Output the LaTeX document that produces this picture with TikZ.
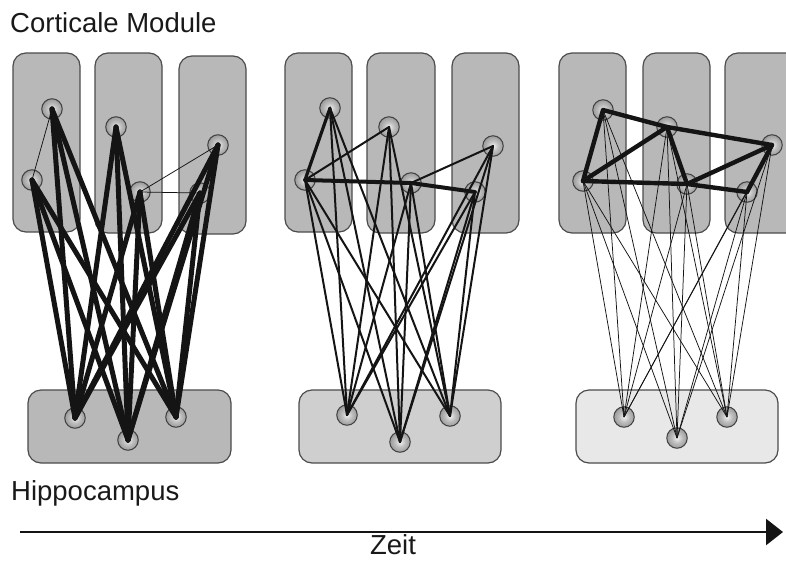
\documentclass[tikz,border=0pt]{standalone}
\usepackage{fontspec}
\setmainfont{Liberation Sans}
\usetikzlibrary{arrows.meta}
\pgfdeclareradialshading{sphere}{\pgfpoint{0bp}{0bp}}{color(0bp)=(black!5); color(12bp)=(black!25); color(30bp)=(black!45); color(42bp)=(black!65); color(50bp)=(black!80)}
\tikzset{
  modbox/.style={draw=black!70, line width=1.2pt, rounded corners=13pt},
  neuron/.style={circle, minimum size=20.5pt, inner sep=0pt, shading=sphere, draw=black!75, line width=1pt},
  lbl/.style={text=black!90, font=\fontsize{27.5}{32}\selectfont},
  thickc/.style={line width=5pt, line cap=round, black!92},
  midc/.style={line width=2pt, line cap=round, black!92},
  thinc/.style={line width=0.75pt, black!92}
}
\begin{document}
\begin{tikzpicture}[x=1pt,y=-1pt]
\clip (0,0) rectangle (786,560);
\fill[white] (0,0) rectangle (786,560);
% ---------- boxes ----------
% panel 1
\draw[modbox, fill=black!28] (13,53) rectangle (80,232);
\draw[modbox, fill=black!28] (95,53) rectangle (162,233);
\draw[modbox, fill=black!28] (179,56) rectangle (246,234);
\draw[modbox, fill=black!28] (28,390) rectangle (231,463);
% panel 2
\draw[modbox, fill=black!28] (285,53) rectangle (352,232);
\draw[modbox, fill=black!28] (367,53) rectangle (435,233);
\draw[modbox, fill=black!28] (452,53) rectangle (519,233);
\draw[modbox, fill=black!19] (299,390) rectangle (501,463);
% panel 3
\draw[modbox, fill=black!28] (559,53) rectangle (626,233);
\draw[modbox, fill=black!28] (643,53) rectangle (710,233);
\draw[modbox, fill=black!28] (725,53) rectangle (800,233);
\draw[modbox, fill=black!9] (576,390) rectangle (778,463);
% ---------- neurons ----------
% panel 1
\node[neuron] (qAa1) at (52,109) {};
\node[neuron] (qAa2) at (32,180) {};
\node[neuron] (qAb1) at (116,127) {};
\node[neuron] (qAb2) at (140,192) {};
\node[neuron] (qAc1) at (218,145) {};
\node[neuron] (qAc2) at (200,193) {};
\node[neuron] (qAh1) at (75,418) {};
\node[neuron] (qAh2) at (128,440) {};
\node[neuron] (qAh3) at (176,417) {};
% panel 2
\node[neuron] (qBa1) at (330,108) {};
\node[neuron] (qBa2) at (305,180) {};
\node[neuron] (qBb1) at (389,127) {};
\node[neuron] (qBb2) at (411,183) {};
\node[neuron] (qBc1) at (493,146) {};
\node[neuron] (qBc2) at (475,192) {};
\node[neuron] (qBh1) at (347,415) {};
\node[neuron] (qBh2) at (400,442) {};
\node[neuron] (qBh3) at (450,416) {};
% panel 3
\node[neuron] (qCa1) at (603,110) {};
\node[neuron] (qCa2) at (583,181) {};
\node[neuron] (qCb1) at (667,127) {};
\node[neuron] (qCb2) at (687,184) {};
\node[neuron] (qCc1) at (772,145) {};
\node[neuron] (qCc2) at (747,192) {};
\node[neuron] (qCh1) at (624,417) {};
\node[neuron] (qCh2) at (677,438) {};
\node[neuron] (qCh3) at (727,417) {};
% ---------- connections cortex - hippocampus ----------
\foreach \c in {a1,a2,b1,b2,c1,c2}{
  \foreach \h in {h1,h2,h3}{
    \draw[thickc] (qA\c.center) -- (qA\h.center);
    \draw[midc] (qB\c.center) -- (qB\h.center);
    \draw[thinc] (qC\c.center) -- (qC\h.center);
  }
}
% ---------- cortical connections ----------
% panel 1
\draw[thinc] (qAa1.center) -- (qAa2.center);
\draw[thinc] (qAb2.center) -- (qAc1.center);
\draw[thinc] (qAb2.center) -- (qAc2.center);
% panel 2
\draw[line width=3.2pt, line cap=round, black!92] (qBa1.center) -- (qBa2.center);
\draw[midc] (qBa2.center) -- (qBb1.center);
\draw[line width=4pt, line cap=round, black!92] (qBa2.center) -- (qBb2.center);
\draw[line width=4pt, line cap=round, black!92] (qBb2.center) -- (qBc2.center);
\draw[midc] (qBb2.center) -- (qBc1.center);
% panel 3
\draw[line width=4.4pt, line cap=round, line join=round, black!92] (qCa2.center) -- (qCa1.center) -- (qCb1.center) -- (qCc1.center) -- (qCc2.center);
\draw[line width=4.4pt, line cap=round, black!92] (qCa2.center) -- (qCb1.center);
\draw[line width=4.4pt, line cap=round, black!92] (qCb1.center) -- (qCb2.center);
\draw[line width=4.4pt, line cap=round, black!92] (qCa2.center) -- (qCb2.center);
\draw[line width=4.4pt, line cap=round, black!92] (qCb2.center) -- (qCc2.center);
\draw[line width=4.4pt, line cap=round, black!92] (qCb2.center) -- (qCc1.center);
% ---------- labels ----------
\node[lbl, anchor=base west, inner sep=0pt] (title) at (10,32.5) {Corticale Module};
\node[lbl, anchor=base west, inner sep=0pt] (hippo) at (11,500) {Hippocampus};
\coordinate (t0) at (20,532);
\coordinate (t1) at (783,532);
\draw[line width=2.6pt, black!92, -{Triangle[length=17pt,width=26pt]}] (t0) -- (t1);
\node[lbl, anchor=base, inner sep=0pt] (zeit) at (393,554) {Zeit};
\end{tikzpicture}
\end{document}
